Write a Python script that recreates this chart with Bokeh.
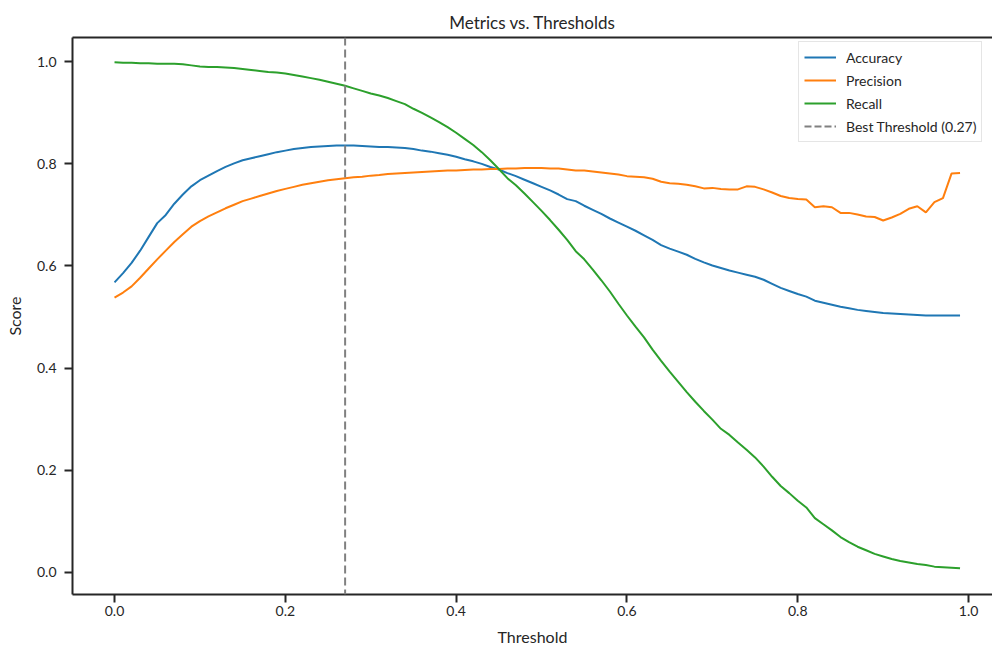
from bokeh.plotting import figure
from bokeh.models import (Range1d, Span, Legend, LegendItem, FixedTicker,
                          PrintfTickFormatter, LinearAxis, ColumnDataSource)
from bokeh.embed import file_html
from bokeh.resources import INLINE

thresholds = [round(i * 0.01, 2) for i in range(100)]

accuracy = [
    0.568, 0.586, 0.606, 0.630, 0.657, 0.684, 0.700, 0.722, 0.740, 0.756,
    0.768, 0.777, 0.786, 0.794, 0.801, 0.807, 0.811, 0.815, 0.819, 0.823,
    0.826, 0.829, 0.831, 0.833, 0.834, 0.835, 0.836, 0.836, 0.836, 0.835,
    0.834, 0.833, 0.833, 0.832, 0.831, 0.829, 0.826, 0.824, 0.821, 0.818,
    0.814, 0.809, 0.805, 0.800, 0.794, 0.789, 0.782, 0.776, 0.769, 0.762,
    0.755, 0.748, 0.740, 0.731, 0.727, 0.718, 0.710, 0.702, 0.693, 0.685,
    0.677, 0.669, 0.660, 0.651, 0.641, 0.634, 0.628, 0.622, 0.614, 0.607,
    0.601, 0.596, 0.591, 0.587, 0.583, 0.579, 0.573, 0.565, 0.557, 0.551,
    0.545, 0.540, 0.532, 0.528, 0.524, 0.520, 0.517, 0.514, 0.512, 0.510,
    0.508, 0.507, 0.506, 0.505, 0.504, 0.503, 0.503, 0.503, 0.503, 0.503,
]

precision = [
    0.538, 0.548, 0.560, 0.577, 0.595, 0.613, 0.630, 0.647, 0.662, 0.677,
    0.688, 0.697, 0.705, 0.713, 0.720, 0.727, 0.732, 0.737, 0.742, 0.747,
    0.751, 0.755, 0.759, 0.762, 0.765, 0.768, 0.770, 0.772, 0.774, 0.775,
    0.777, 0.778, 0.780, 0.781, 0.782, 0.783, 0.784, 0.785, 0.786, 0.787,
    0.787, 0.788, 0.789, 0.789, 0.790, 0.790, 0.791, 0.791, 0.792, 0.792,
    0.792, 0.791, 0.791, 0.789, 0.787, 0.787, 0.785, 0.783, 0.781, 0.779,
    0.776, 0.775, 0.774, 0.771, 0.765, 0.762, 0.761, 0.759, 0.756, 0.752,
    0.753, 0.751, 0.750, 0.750, 0.756, 0.755, 0.750, 0.744, 0.737, 0.733,
    0.731, 0.730, 0.715, 0.717, 0.715, 0.704, 0.704, 0.701, 0.697, 0.696,
    0.689, 0.695, 0.702, 0.712, 0.717, 0.705, 0.725, 0.733, 0.781, 0.782,
]

recall = [
    0.999, 0.998, 0.998, 0.997, 0.997, 0.996, 0.996, 0.996, 0.995, 0.993,
    0.991, 0.990, 0.990, 0.989, 0.988, 0.986, 0.984, 0.982, 0.980, 0.979,
    0.977, 0.974, 0.971, 0.968, 0.965, 0.961, 0.957, 0.953, 0.948, 0.943,
    0.938, 0.934, 0.929, 0.923, 0.917, 0.908, 0.900, 0.891, 0.882, 0.872,
    0.861, 0.849, 0.837, 0.823, 0.807, 0.790, 0.772, 0.758, 0.742, 0.725,
    0.708, 0.690, 0.671, 0.651, 0.629, 0.613, 0.593, 0.572, 0.550, 0.526,
    0.503, 0.481, 0.460, 0.436, 0.414, 0.393, 0.373, 0.353, 0.334, 0.316,
    0.299, 0.281, 0.269, 0.254, 0.240, 0.225, 0.207, 0.187, 0.169, 0.155,
    0.140, 0.127, 0.106, 0.094, 0.082, 0.069, 0.059, 0.050, 0.043, 0.036,
    0.031, 0.026, 0.022, 0.019, 0.016, 0.014, 0.011, 0.010, 0.009, 0.008,
]

best_threshold = 0.27
tick_values = [0.0, 0.2, 0.4, 0.6, 0.8, 1.0]

FONT = "Lato"
TXT = "#262626"

p = figure(width=992, height=648, output_backend="svg", toolbar_location=None,
           x_range=Range1d(-0.0492, 1.028), y_range=Range1d(-0.0436, 1.0476),
           min_border_left=72, min_border_right=0, min_border_top=37,
           min_border_bottom=54, title="Metrics vs. Thresholds")

p.title.align = "center"
p.title.offset = 13
p.title.text_font = FONT
p.title.text_font_size = "17px"
p.title.text_font_style = "normal"
p.title.text_color = TXT

p.xgrid.visible = False
p.ygrid.visible = False
p.outline_line_color = None
p.background_fill_color = "white"

src = ColumnDataSource(dict(t=thresholds, acc=accuracy, prec=precision, rec=recall))
r_acc = p.line("t", "acc", source=src, line_color="#1f77b4", line_width=2)
r_prec = p.line("t", "prec", source=src, line_color="#ff7f0e", line_width=2)
r_rec = p.line("t", "rec", source=src, line_color="#2ca02c", line_width=2)

vline = Span(location=best_threshold, dimension="height", line_color="gray",
             line_dash="8 4", line_width=2)
p.add_layout(vline)
# invisible-in-plot line used only for the legend entry of the dashed threshold line
dummy = p.line(x=[best_threshold], y=[float("nan")], line_color="gray",
               line_dash="7 3", line_width=2)

for ax in (p.xaxis[0], p.yaxis[0]):
    ax.ticker = FixedTicker(ticks=tick_values)
    ax.formatter = PrintfTickFormatter(format="%.1f")
    ax.minor_tick_line_color = None
    ax.major_tick_out = 8
    ax.major_tick_in = 0
    ax.major_tick_line_width = 2
    ax.major_tick_line_color = TXT
    ax.axis_line_width = 2
    ax.axis_line_color = TXT
    ax.major_label_text_font = FONT
    ax.major_label_text_font_size = "14px"
    ax.major_label_text_color = TXT
    ax.axis_label_text_font = FONT
    ax.axis_label_text_font_size = "16px"
    ax.axis_label_text_font_style = "normal"
    ax.axis_label_text_color = TXT

p.xaxis.major_label_standoff = 3
p.yaxis.major_label_standoff = 8
p.xaxis.axis_label = "Threshold"
p.yaxis.axis_label = "Score"
p.xaxis.axis_label_standoff = 8
p.yaxis.axis_label_standoff = 10

top = LinearAxis(ticker=FixedTicker(ticks=[]), axis_line_width=2,
                 axis_line_color=TXT, major_tick_out=0, major_tick_in=0,
                 minor_tick_out=0, minor_tick_in=0, major_label_text_font_size="0px")
p.add_layout(top, "above")

legend = Legend(items=[
    LegendItem(label="Accuracy", renderers=[r_acc]),
    LegendItem(label="Precision", renderers=[r_prec]),
    LegendItem(label="Recall", renderers=[r_rec]),
    LegendItem(label="Best Threshold (%.2f)" % best_threshold, renderers=[dummy]),
], location=(726, 452))
legend.label_text_font = FONT
legend.label_text_font_size = "14px"
legend.label_text_color = TXT
legend.glyph_width = 32
legend.glyph_height = 20
legend.label_height = 20
legend.spacing = 3
legend.padding = 5
legend.margin = 0
legend.label_standoff = 10
legend.border_line_color = "#cccccc"
legend.border_line_width = 1
legend.background_fill_alpha = 0.85
p.add_layout(legend, "center")

open("out.html", "w").write(file_html(p, INLINE))
